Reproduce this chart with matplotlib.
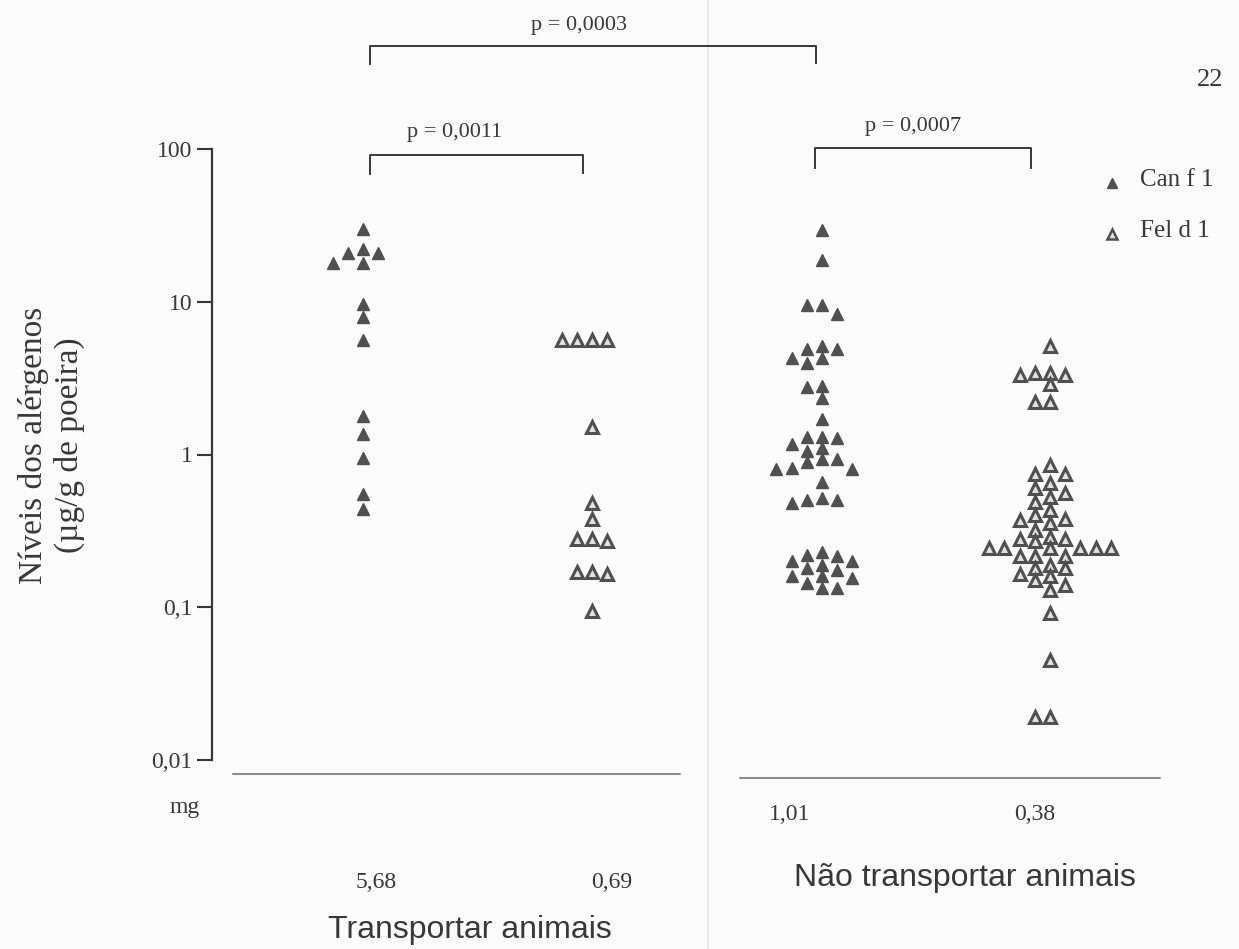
import numpy as np
import matplotlib
matplotlib.use("Agg")
import matplotlib.pyplot as plt

# ---------------- data ----------------
groups = ["Transportar - Can f 1", "Transportar - Fel d 1",
          "Não transportar - Can f 1", "Não transportar - Fel d 1"]

can_transport = [30, 22, 21, 21, 18, 18, 9.7, 8.0, 5.6, 1.8, 1.37, 0.95, 0.55, 0.44]
fel_transport = [5.6, 5.6, 5.6, 5.6, 1.52, 0.48, 0.38, 0.28, 0.27, 0.28,
                 0.17, 0.165, 0.17, 0.095]
can_non = [29.5, 18.7, 9.5, 9.5, 8.3,
           4.9, 5.1, 4.9, 4.3, 4.3, 4.0,
           2.8, 2.75, 2.35, 1.7,
           1.3, 1.28, 1.3, 1.17, 1.05, 1.1,
           0.93, 0.89, 0.93, 0.8, 0.8, 0.81, 0.66,
           0.52, 0.5, 0.48, 0.5,
           0.23, 0.215, 0.22, 0.19, 0.2, 0.2, 0.18, 0.175,
           0.16, 0.16, 0.155, 0.144, 0.133, 0.133]
fel_non = [5.1, 3.3, 3.3, 3.4, 3.4, 2.9, 2.2, 2.2,
           0.85, 0.75, 0.75, 0.65, 0.6, 0.53, 0.56, 0.49, 0.43, 0.4,
           0.37, 0.38, 0.355, 0.32, 0.29, 0.27, 0.28, 0.28,
           0.243, 0.243, 0.243, 0.243, 0.243, 0.243,
           0.215, 0.215, 0.215,
           0.19, 0.16, 0.18, 0.18, 0.165, 0.15, 0.14, 0.13,
           0.092, 0.045, 0.019, 0.019]

yticks = [0.01, 0.1, 1, 10, 100]
ytick_labels = ["0,01", "0,1", "1", "10", "100"]
mg_labels = ["5,68", "0,69", "1,01", "0,38"]
p_labels = ["p = 0,0003", "p = 0,0011", "p = 0,0007"]
legend_labels = ["Can f 1", "Fel d 1"]

# ---------------- style ----------------
SERIF = "Liberation Serif"
SANS = "Liberation Sans"
INK = "#383838"
W, H = 1239, 949
fig = plt.figure(figsize=(W / 100, H / 100), dpi=100, facecolor="#fbfbfb")

ax_top, ax_bot, ax_left = 149, 760, 212
ax = fig.add_axes([ax_left / W, (H - ax_bot) / H, (W - ax_left) / W, (ax_bot - ax_top) / H])
ax.set_facecolor("none")
ax.set_yscale("log")
ax.set_ylim(0.01, 100)
ax.set_xlim(ax_left, W)
for s in ["top", "right", "bottom"]:
    ax.spines[s].set_visible(False)
ax.spines["left"].set_color(INK)
ax.spines["left"].set_linewidth(1.6)
ax.set_xticks([])
ax.set_yticks(yticks)
ax.set_yticklabels(ytick_labels, fontfamily=SERIF, fontsize=17, color=INK)
ax.yaxis.set_minor_locator(matplotlib.ticker.NullLocator())
ax.tick_params(axis="y", length=11, width=1.5, color=INK, pad=3)

centers = [363, 592, 822, 1050]
px_per_decade = (ax_bot - ax_top) / 4.0


def swarm(values, center, dx=15.2, min_dy=10.5):
    placed = []
    order = np.argsort(values)[::-1]
    out = np.zeros(len(values))
    for i in order:
        ypx = np.log10(values[i]) * px_per_decade
        k = 0
        while True:
            slot = (k + 1) // 2 * (-1 if k % 2 else 1)
            ok = all(not (s == slot and abs(yy - ypx) < min_dy) for s, yy in placed)
            if ok:
                placed.append((slot, ypx))
                out[i] = center + slot * dx
                break
            k += 1
    return out


can_kw = dict(marker="^", linestyle="none", ms=8.5, mfc="#505050", mec="#505050", mew=1.0)
fel_kw = dict(marker="^", linestyle="none", ms=8.5, mfc="#e2e2e2", mec="#505050", mew=2.2)

series = [(can_transport, can_kw), (fel_transport, fel_kw), (can_non, can_kw), (fel_non, fel_kw)]
for (vals, kw), c in zip(series, centers):
    vals = np.array(vals, dtype=float)
    ax.plot(swarm(vals, c), vals, **kw)

# ---------------- overlay (annotations) ----------------
ov = fig.add_axes([0, 0, 1, 1], zorder=-1)
ov.set_xlim(0, W)
ov.set_ylim(H, 0)
ov.axis("off")
ov.patch.set_alpha(0)

# faint fold line of the scan
ov.plot([708, 708], [0, H], color="#e8e8e8", lw=1.5)

# baselines
ov.plot([233, 680], [774, 774], color="#6a6a6a", lw=1.1)
ov.plot([740, 1160], [778, 778], color="#6a6a6a", lw=1.1)


def bracket(x0, x1, y, drop0, drop1, label, tx, ty):
    ov.plot([x0, x0, x1, x1], [y + drop0, y, y, y + drop1], color=INK, lw=1.4)
    ov.text(tx, ty, label, fontfamily=SERIF, fontsize=16, color=INK,
            ha="center", va="center")


bracket(370, 816, 46, 18, 17, p_labels[0], 579, 25)
bracket(370, 583, 155, 19, 18, p_labels[1], 455, 132)
bracket(815, 1031, 148, 20, 20, p_labels[2], 913, 126)

# y label
ov.text(34, 445, "Níveis dos alérgenos", fontfamily=SERIF, fontsize=24, color=INK,
        rotation=90, ha="center", va="center")
ov.text(69, 445, "(µg/g de poeira)", fontfamily=SERIF, fontsize=24, color=INK,
        rotation=90, ha="center", va="center")

# mg values
ov.text(185, 808, "mg", fontfamily=SERIF, fontsize=17, color=INK, ha="center", va="center")
mg_pos = [(376, 882), (612, 882), (790, 814), (1035, 814)]
for lab, (x, y) in zip(mg_labels, mg_pos):
    ov.text(x, y, lab, fontfamily=SERIF, fontsize=17, color=INK, ha="center", va="center")

ov.text(965, 878, "Não transportar animais", fontfamily=SANS, fontsize=23, color=INK,
        ha="center", va="center")
ov.text(470, 930, "Transportar animais", fontfamily=SANS, fontsize=23, color=INK,
        ha="center", va="center")

# page number
ov.text(1210, 80, "22", fontfamily=SERIF, fontsize=19, color=INK, ha="center", va="center")

# legend
ov.plot([1112], [183], **dict(can_kw, ms=7))
ov.plot([1112], [234], **dict(fel_kw, ms=7, mew=1.8))
ov.text(1140, 180, legend_labels[0], fontfamily=SERIF, fontsize=18, color=INK, va="center")
ov.text(1140, 231, legend_labels[1], fontfamily=SERIF, fontsize=18, color=INK, va="center")

fig.savefig("out.png", dpi=100, facecolor=fig.get_facecolor())
